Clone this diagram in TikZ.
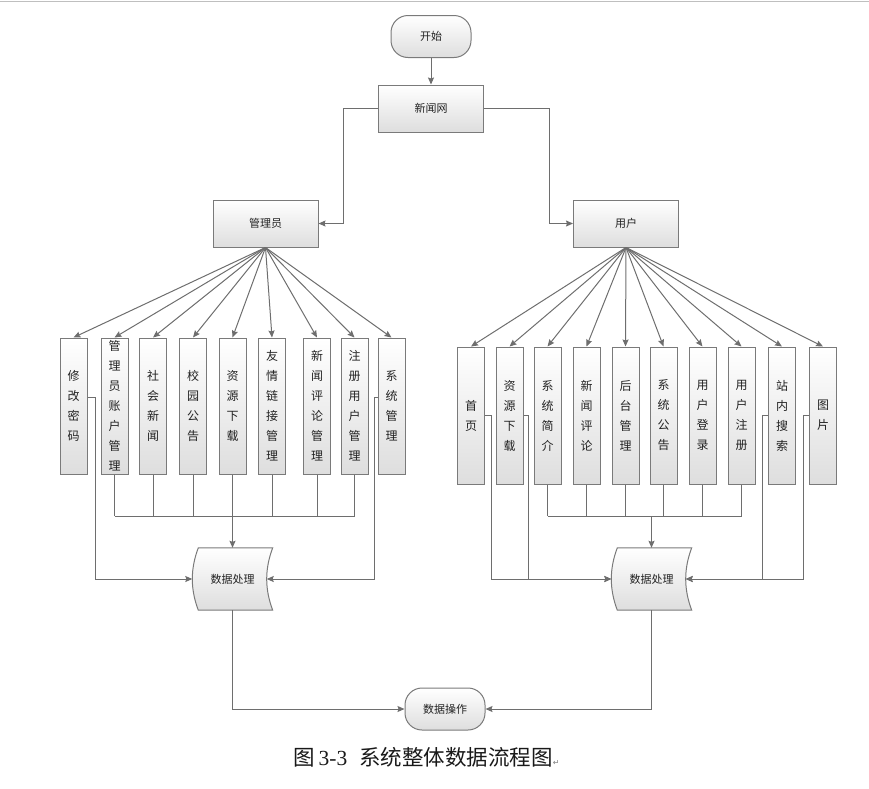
\documentclass[tikz,border=0pt]{standalone}
\usepackage{fontspec}
\setmainfont{Noto Sans CJK SC}
\newfontfamily\tnr{Liberation Serif}
\newfontfamily\djv{DejaVu Sans}
\usetikzlibrary{arrows.meta,calc,backgrounds}
\definecolor{lg}{HTML}{6E6E6E}
\definecolor{bd}{HTML}{7A7A7A}
\definecolor{tx}{HTML}{222222}
\begin{document}
\begin{tikzpicture}[x=1pt,y=-1pt,
 box/.style={draw=bd, line width=1pt, top color=white, bottom color=black!13, minimum width=105pt, minimum height=47pt, inner sep=0pt, text=tx, font=\fontsize{11}{13}\selectfont},
 term/.style={box, rounded corners=17pt, minimum width=80pt, minimum height=42pt},
 vbox/.style={draw=bd, line width=1pt, top color=white, bottom color=black!13, minimum width=27pt, inner sep=0pt, text width=14pt, align=center, text=tx, font=\fontsize{12}{20}\selectfont},
 lbox/.style={vbox, minimum height=136pt},
 rbox/.style={vbox, minimum height=137pt},
 dp/.style={minimum width=80pt, minimum height=62pt, inner sep=0pt, text=tx, font=\fontsize{11}{13}\selectfont},
 dpshape/.style={draw=bd, line width=1pt, top color=white, bottom color=black!13},
 ln/.style={draw=lg, line width=1pt},
 arr/.style={ln, -{Stealth[length=7pt,width=6pt,inset=1pt]}}]
\useasboundingbox (0,0) rectangle (869,788);
\draw[black!25, line width=1.2pt] (0,1.5) -- (869,1.5);

% top nodes
\node[term] (start) at (431,36.5) {开始};
\node[box] (news) at (431,108.5) {新闻网};
\node[box] (admin) at (265.5,223.5) {管理员};
\node[box] (user) at (626,223.5) {用户};

% left boxes
\node[lbox] (L1) at (73.5,406) {修\\改\\密\\码};
\node[lbox] (L2) at (114.5,406) {管\\理\\员\\账\\户\\管\\理};
\node[lbox] (L3) at (153,406) {社\\会\\新\\闻};
\node[lbox] (L4) at (193,406) {校\\园\\公\\告};
\node[lbox] (L5) at (232.5,406) {资\\源\\下\\载};
\node[lbox] (L6) at (272,406) {友\\情\\链\\接\\管\\理};
\node[lbox] (L7) at (317,406) {新\\闻\\评\\论\\管\\理};
\node[lbox] (L8) at (354.5,406) {注\\册\\用\\户\\管\\理};
\node[lbox] (L9) at (391.5,406) {系\\统\\管\\理};

% right boxes
\node[rbox] (R1) at (471,415.5) {首\\页};
\node[rbox] (R2) at (509.5,415.5) {资\\源\\下\\载};
\node[rbox] (R3) at (547.5,415.5) {系\\统\\简\\介};
\node[rbox] (R4) at (586.5,415.5) {新\\闻\\评\\论};
\node[rbox] (R5) at (625.5,415.5) {后\\台\\管\\理};
\node[rbox] (R6) at (663.5,415.5) {系\\统\\公\\告};
\node[rbox] (R7) at (702.5,415.5) {用\\户\\登\\录};
\node[rbox] (R8) at (741.5,415.5) {用\\户\\注\\册};
\node[rbox] (R9) at (782,415.5) {站\\内\\搜\\索};
\node[rbox] (R10) at (823,415.5) {图\\片};

% data processing
\node[dp] (dpL) at (232.5,579) {数据处理};
\node[dp] (dpR) at (651.5,579) {数据处理};
\begin{pgfonlayer}{background}
\foreach \d in {dpL,dpR}{
 \path[dpshape] ($(\d.north west)+(6,0)$) -- (\d.north east)
   .. controls ($(\d.east)+(-8,-10)$) and ($(\d.east)+(-8,10)$) .. (\d.south east)
   -- ($(\d.south west)+(6,0)$)
   .. controls ($(\d.west)+(-2,10)$) and ($(\d.west)+(-2,-10)$) .. cycle;
}
\end{pgfonlayer}

\node[term] (op) at (445,709) {数据操作};

% caption
\node[anchor=base west, inner sep=0pt, text=black!90, font=\fontsize{21.5}{24}\selectfont] (cap) at (293,765)
 {图\hspace{4pt}{\tnr 3-3}\hspace{12pt}系统整体数据流程图{\djv\fontsize{8}{8}\selectfont\color{gray}↵}};

% connectors
\coordinate (bus) at (0,516);
\draw[arr] (start.south) -- (news.north);
\draw[arr] (news.west) -- ++(-35,0) |- (admin.east);
\draw[arr] (news.east) -- ++(65,0) |- (user.west);
\foreach \b in {L1,L2,L3,L4,L5,L6,L7,L8,L9} \draw[arr] (admin.south) -- (\b.north);
\foreach \b in {R1,R2,R3,R4,R5,R6,R7,R8,R9,R10} \draw[arr] (user.south) -- (\b.north);

\foreach \b in {L2,L3,L4,L5,L6,L7,L8} \draw[ln] (\b.south) -- (\b.south |- bus);
\draw[ln] (L2.south |- bus) -- (L8.south |- bus);
\draw[arr] (dpL.north |- bus) -- (dpL.north);
\draw[arr] ($(L1.east)+(0,-9)$) -- ++(8,0) |- (dpL.west);
\draw[arr] ($(L9.west)+(0,-9)$) -- ++(-3,0) |- ($(dpL.east)+(-6,0)$);

\foreach \b in {R3,R4,R5,R6,R7,R8} \draw[ln] (\b.south) -- (\b.south |- bus);
\draw[ln] (R3.south |- bus) -- (R8.south |- bus);
\draw[arr] (dpR.north |- bus) -- (dpR.north);
\draw[arr] (R1.east) -- ++(6,0) |- (dpR.west);
\draw[arr] (R2.east) -- ++(5,0) |- (dpR.west);
\draw[arr] (R9.west) -- ++(-6,0) |- ($(dpR.east)+(-6,0)$);
\draw[arr] (R10.west) -- ++(-6,0) |- ($(dpR.east)+(-6,0)$);

\draw[arr] (dpL.south) |- (op.west);
\draw[arr] (dpR.south) |- (op.east);
\end{tikzpicture}
\end{document}
